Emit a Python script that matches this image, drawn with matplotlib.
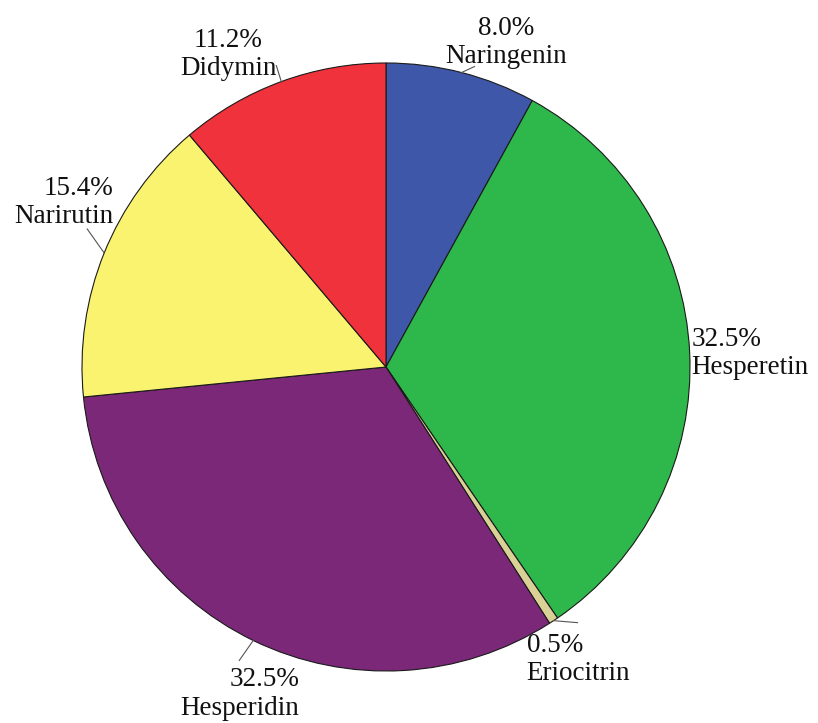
import numpy as np
import matplotlib
matplotlib.use("Agg")
import matplotlib.pyplot as plt

plt.rcParams['font.family'] = ['Liberation Serif', 'DejaVu Serif']

# Data
names = ['Naringenin', 'Hesperetin', 'Eriocitrin', 'Hesperidin', 'Narirutin', 'Didymin']
shares = [8.0, 32.5, 0.5, 32.5, 15.4, 11.2]
colors = ['#3F57A8', '#2EB74A', '#D9D196', '#7B2878', '#FAF36F', '#EF323B']

# Layout (pixels): text offset from slice anchor, alignment, leader end offset
W, H = 818, 723
cx, cy, rad = 386, 367, 304
label_layout = {
    'Naringenin': (45, -57, 'center', (13, -6)),
    'Hesperetin': (2, -25, 'left', None),
    'Eriocitrin': (-27, 12, 'left', (24, 2)),
    'Hesperidin': (46, 27, 'right', (-14, 20)),
    'Narirutin': (9, -77, 'right', (-17, -24)),
    'Didymin': (-53, -54, 'center', (-5, -16)),
}


def px(x, y):
    # image pixel coords -> data coords (y up)
    return x, H - y


fig = plt.figure(figsize=(W / 100, H / 100), dpi=100)
ax = fig.add_axes([0, 0, 1, 1])

wedges, _ = ax.pie(shares, colors=colors, startangle=90, counterclock=False,
                   center=px(cx, cy), radius=rad,
                   wedgeprops=dict(edgecolor='#1a1a1a', linewidth=0.8))

ax.set_xlim(0, W)
ax.set_ylim(0, H)
ax.set_aspect('auto')
ax.axis('off')

frac = np.array(shares) / np.sum(shares)
ends = np.cumsum(frac) * 360
mids = ends - frac * 180

for name, share, ang in zip(names, shares, mids):
    a = np.radians(ang)
    ax_px = cx + rad * np.sin(a)
    ay_px = cy - rad * np.cos(a)
    dx, dy, ha, lead = label_layout[name]
    if lead is not None:
        x0, y0 = px(ax_px, ay_px)
        x1, y1 = px(ax_px + lead[0], ay_px + lead[1])
        ax.plot([x0, x1], [y0, y1], color='#555555', linewidth=0.8)
    tx, ty = px(ax_px + dx, ay_px + dy)
    ax.text(tx, ty, '{:.1f}%\n{}'.format(share, name), ha=ha, va='top',
            multialignment=ha, fontsize=19.5, linespacing=1.16, color='#111111')

fig.savefig('out.png', dpi=100)
